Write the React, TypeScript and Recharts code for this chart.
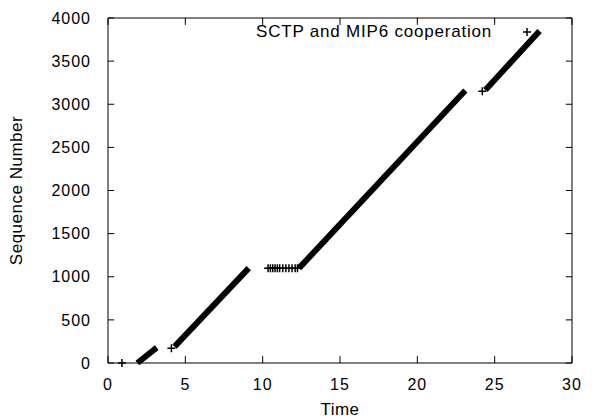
import React from 'react';
import { ComposedChart, Line, Scatter, XAxis, YAxis, Legend, Label, ReferenceLine } from 'recharts';

const X_TICKS = [0, 5, 10, 15, 20, 25, 30];
const Y_TICKS = [0, 500, 1000, 1500, 2000, 2500, 3000, 3500, 4000];
const X_DOMAIN = [0, 30];
const Y_DOMAIN = [0, 4000];
const SERIES_NAME = 'SCTP and MIP6 cooperation';
const X_LABEL = 'Time';
const Y_LABEL = 'Sequence Number';

// dense runs of points (drawn as solid thick strokes, as in the picture)
const segment1 = [{ time: 1.9, seq: 0 }, { time: 3.15, seq: 178 }];
const segment2 = [{ time: 4.3, seq: 190 }, { time: 9.1, seq: 1100 }];
const segment3 = [{ time: 12.35, seq: 1100 }, { time: 23.1, seq: 3160 }];
const segment4 = [{ time: 24.4, seq: 3165 }, { time: 27.9, seq: 3850 }];

// sparse individual points
const isolatedPoints = [
  { time: 0.9, seq: 0 },
  { time: 4.1, seq: 170 },
  { time: 24.2, seq: 3150 },
];
const plateauPoints = [
  { time: 10.35, seq: 1100 },
  { time: 10.5, seq: 1100 },
  { time: 10.65, seq: 1100 },
  { time: 10.8, seq: 1100 },
  { time: 10.95, seq: 1100 },
  { time: 11.1, seq: 1100 },
  { time: 11.3, seq: 1100 },
  { time: 11.5, seq: 1100 },
  { time: 11.7, seq: 1100 },
  { time: 11.9, seq: 1100 },
  { time: 12.1, seq: 1100 },
  { time: 12.25, seq: 1100 },
];

// inward tick lengths (gnuplot style), in axis units
const X_TICK_LEN = 80;
const Y_TICK_LEN = 0.4;

const FONT = '"Liberation Sans", Arial, Helvetica, sans-serif';

const PlusShape = (props: any) => {
  const { cx, cy } = props;
  return (
    <path
      d={`M${cx - 4},${cy}h8M${cx},${cy - 4}v8`}
      stroke="#000"
      strokeWidth={1.5}
      fill="none"
    />
  );
};

const LegendContent = () => (
  <div style={{ display: 'flex', alignItems: 'center', fontFamily: FONT, fontSize: 17, letterSpacing: 0.8, color: '#000', lineHeight: '20px', whiteSpace: 'nowrap' }}>
    <span>{SERIES_NAME}</span>
    <svg width={44} height={20} style={{ display: 'block' }}>
      <path d="M31,10h8M35,6v8" stroke="#000" strokeWidth={1.5} />
    </svg>
  </div>
);

export default function App() {
  const lineProps = {
    dataKey: 'seq',
    stroke: '#000',
    strokeWidth: 6,
    dot: false,
    activeDot: false,
    isAnimationActive: false,
    legendType: 'none' as const,
    strokeLinecap: 'butt' as const,
  };
  const tickStyle = { fill: '#000', fontSize: 16, fontFamily: FONT, letterSpacing: 1 };
  return (
    <div style={{ position: 'absolute', left: 0, top: 0, width: 602, height: 419, background: '#fff', fontFamily: FONT }}>
      <ComposedChart width={602} height={419} margin={{ top: 18, right: 30, bottom: 26, left: 0 }}>
        <XAxis
          type="number"
          dataKey="time"
          domain={X_DOMAIN}
          ticks={X_TICKS}
          allowDataOverflow
          height={30}
          stroke="#000"
          tickLine={false}
          tickMargin={10}
          tick={tickStyle}
        >
          <Label value={X_LABEL} position="insideBottom" offset={-22} style={{ fill: '#000', fontSize: 17, fontFamily: FONT, letterSpacing: 0.5 }} />
        </XAxis>
        <YAxis
          type="number"
          dataKey="seq"
          domain={Y_DOMAIN}
          ticks={Y_TICKS}
          width={108}
          stroke="#000"
          tickLine={false}
          tickMargin={11}
          tick={tickStyle}
        >
          <Label value={Y_LABEL} angle={-90} position="insideLeft" offset={16} style={{ fill: '#000', fontSize: 17, fontFamily: FONT, letterSpacing: 0.5, textAnchor: 'middle' }} />
        </YAxis>
        {/* frame: top and right borders */}
        <ReferenceLine y={Y_DOMAIN[1]} stroke="#000" strokeWidth={1} ifOverflow="visible" />
        <ReferenceLine x={X_DOMAIN[1]} stroke="#000" strokeWidth={1} ifOverflow="visible" />
        {/* inward tick marks on all four sides */}
        {X_TICKS.map((t) => (
          <ReferenceLine key={`xb${t}`} segment={[{ x: t, y: Y_DOMAIN[0] }, { x: t, y: Y_DOMAIN[0] + X_TICK_LEN }]} stroke="#000" ifOverflow="visible" />
        ))}
        {X_TICKS.map((t) => (
          <ReferenceLine key={`xt${t}`} segment={[{ x: t, y: Y_DOMAIN[1] }, { x: t, y: Y_DOMAIN[1] - X_TICK_LEN }]} stroke="#000" ifOverflow="visible" />
        ))}
        {Y_TICKS.map((v) => (
          <ReferenceLine key={`yl${v}`} segment={[{ x: X_DOMAIN[0], y: v }, { x: X_DOMAIN[0] + Y_TICK_LEN, y: v }]} stroke="#000" ifOverflow="visible" />
        ))}
        {Y_TICKS.map((v) => (
          <ReferenceLine key={`yr${v}`} segment={[{ x: X_DOMAIN[1], y: v }, { x: X_DOMAIN[1] - Y_TICK_LEN, y: v }]} stroke="#000" ifOverflow="visible" />
        ))}
        <Legend
          verticalAlign="middle"
          align="center"
          layout="horizontal"
          content={<LegendContent />}
          wrapperStyle={{ top: 22, left: 256, width: 330 }}
        />
        <Line data={segment1} {...lineProps} />
        <Line data={segment2} {...lineProps} />
        <Line data={segment3} {...lineProps} />
        <Line data={segment4} {...lineProps} />
        <Scatter data={isolatedPoints} dataKey="seq" shape={PlusShape} isAnimationActive={false} legendType="none" />
        <Scatter data={plateauPoints} dataKey="seq" shape={PlusShape} isAnimationActive={false} legendType="none" />
      </ComposedChart>
    </div>
  );
}
